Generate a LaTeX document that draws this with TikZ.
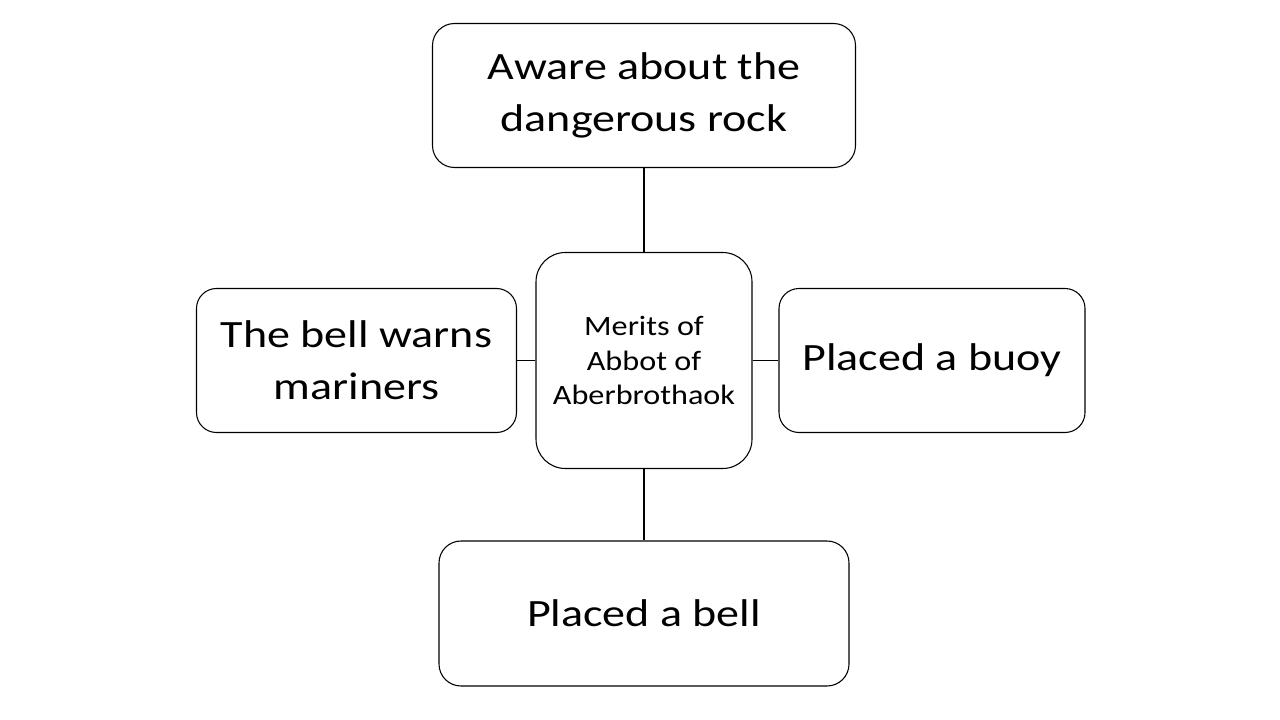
\documentclass[tikz,border=0pt]{standalone}
\usepackage{fontspec}
\setmainfont{Carlito}[FakeStretch=1.19]
\newfontfamily\midfont{Carlito}[FakeStretch=1.15]
\begin{document}
\begin{tikzpicture}[x=0.75pt,y=-0.75pt,
  box/.style={draw=black, line width=0.8pt, fill=white, align=center, inner sep=0pt},
  big/.style={font=\fontsize{29}{38.8}\selectfont},
  small/.style={font=\midfont\fontsize{21}{26.2}\selectfont},
  link/.style={draw=black, line width=0.8pt}]
\useasboundingbox (0,0) rectangle (1280,720);
\fill[white] (0,0) rectangle (1280,720);
\node[box, big, rounded corners=16.5pt, minimum width=423*0.75pt, minimum height=144*0.75pt] (top) at (644,95.5) {Aware about the\\dangerous rock};
\node[box, big, rounded corners=15pt, minimum width=320*0.75pt, minimum height=144*0.75pt] (left) at (356.5,360.5) {The bell warns\\mariners};
\node[box, small, rounded corners=22pt, minimum width=216*0.75pt, minimum height=216*0.75pt] (mid) at (644,360.5) {Merits of\\Abbot of\\Aberbrothaok};
\node[box, big, rounded corners=15pt, minimum width=306*0.75pt, minimum height=144*0.75pt] (right) at (932,360.5) {Placed a buoy};
\node[box, big, rounded corners=16.5pt, minimum width=410*0.75pt, minimum height=145*0.75pt] (bot) at (644,613.5) {Placed a bell};
\draw[link] (top.south) -- (mid.north);
\draw[link] (mid.south) -- (bot.north);
\draw[link] (left.east) -- (mid.west);
\draw[link] (mid.east) -- (right.west);
\end{tikzpicture}
\end{document}
